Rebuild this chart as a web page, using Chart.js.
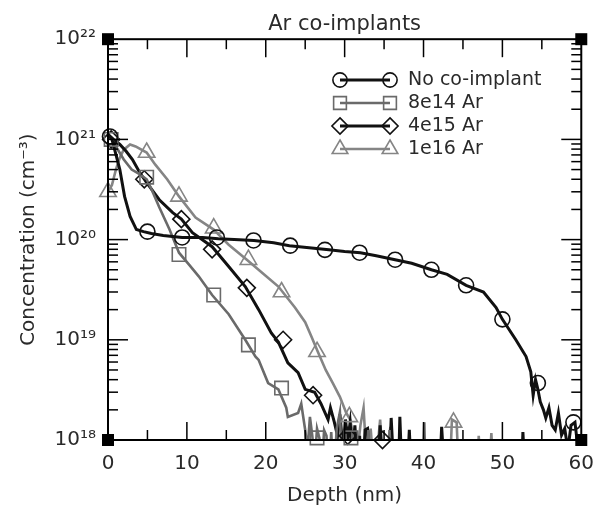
<!DOCTYPE html>
<html><head><meta charset="utf-8">
<script src="https://cdn.jsdelivr.net/npm/chart.js@4.4.0/dist/chart.umd.min.js"></script>
<style>html,body{margin:0;padding:0;background:#fff;}canvas{display:block;}</style>
</head><body>
<canvas id="c" width="606" height="513"></canvas>
<script>
// ---------- data (depth in nm, concentration in cm^-3) ----------
const seriesNames = ['No co-implant', '8e14 Ar', '4e15 Ar', '1e16 Ar'];

const depthNoCo = [0,0.5,1.0,1.5,2.1,2.8,3.6,4.5,5.5,7,9.4,12,14,16,18.5,21,23,25.5,28,30,32,34,36.4,38.5,41,43,45.4,47.6,49.2,50,51.7,53,53.6,53.9,54.2,54.5,54.8,55.2,55.5,55.9,56.3,56.7,57.1,57.5,57.9,58.3,58.7,59.2,59.6,60];
const concNoCo  = [1.12e21,1.0e21,7.1e20,5.0e20,2.7e20,1.7e20,1.26e20,1.2e20,1.15e20,1.1e20,1.05e20,1.05e20,1.02e20,1.0e20,9.8e19,9.3e19,8.7e19,8.3e19,7.9e19,7.6e19,7.4e19,6.9e19,6.3e19,5.8e19,5.0e19,4.5e19,3.5e19,3.0e19,2.1e19,1.6e19,1.0e19,6.8e18,4.8e18,2.8e18,4.0e18,3.2e18,2.4e18,2.0e18,1.66e18,2.1e18,1.4e18,1.26e18,1.86e18,1.12e18,1.3e18,8e17,1.4e18,1.5e18,8e17,1.0e18];

const depth8e14 = [0,0.5,1.0,2.0,3.0,4.0,4.9,5.5,6.5,7.8,9.0,10.3,11.5,13.2,15.3,17.4,18.7,19.1,20.3,21.6,22.6,22.8,24.1,24.5,25.0,25.3,25.6,25.9,26.2,26.5,26.8,27.1,27.4,27.7,28.0,28.3,28.6,29.0,29.4,29.7,30.1,30.5,31.0,31.4,32.6,33.0,33.4,35.4,35.7,36.0,39.8,40.1,40.3];
const conc8e14  = [1.05e21,1.0e21,8.5e20,6.3e20,5.0e20,4.5e20,4.0e20,3.2e20,2.1e20,1.26e20,7.4e19,5.6e19,4.3e19,2.8e19,1.8e19,1.0e19,6.8e18,6.3e18,3.7e18,3.2e18,2.1e18,1.7e18,1.86e18,2.3e18,1.26e18,8e17,1.7e18,1.1e18,6e17,1.3e18,1.05e18,5e17,1.25e18,1.1e18,4e17,1.2e18,4e17,1.3e18,1.9e18,4e17,1.15e18,3e17,1.2e18,3e17,3e17,1.26e18,3e17,3e17,1.26e18,3e17,3e17,1.5e18,3e17];

const depth4e15 = [0,0.7,1.5,2.3,3.1,4.0,4.9,6.5,8.2,9.3,10.7,13.2,15.3,17.4,19.1,20.7,21.6,22.8,24.1,25.0,26.2,27.0,27.9,28.2,28.7,29.1,29.4,29.8,30.1,30.4,30.7,31.0,31.3,31.6,31.9,32.2,32.6,32.9,33.2,34.2,34.5,34.9,35.6,35.9,36.3,36.8,37.0,37.3,37.9,38.2,38.5,42.0,42.3,42.7,52.4,52.6,52.9];
const conc4e15  = [1.12e21,1.0e21,8.9e20,7.6e20,6.3e20,4.7e20,3.7e20,2.5e20,1.86e20,1.6e20,1.17e20,8.5e19,5.4e19,3.4e19,2.0e19,1.17e19,9.5e18,5.9e18,4.7e18,3.2e18,3.0e18,2.3e18,1.6e18,2.1e18,1.5e18,1.1e18,1.8e18,8e17,1.6e18,1.0e18,1.5e18,7e17,1.4e18,6e17,1.1e18,4e17,1.26e18,1.3e18,4e17,4e17,1.4e18,4e17,4e17,1.66e18,4e17,4e17,1.7e18,4e17,4e17,1.26e18,4e17,4e17,1.35e18,4e17,4e17,1.2e18,4e17];

const depth1e16 = [0,0.5,1.0,1.5,2.0,2.8,3.5,4.9,6.0,7.5,9.0,11.1,13.4,15.3,17.6,19.5,21.6,23.7,25.0,25.8,26.6,27.6,28.5,29.4,30.2,30.7,31.0,31.5,32.0,32.4,32.8,33.3,33.8,34.5,35.0,35.8,36.2,43.3,43.6,44.2,44.5,46.8,47.0,47.3,48.3,48.6,48.9];
const conc1e16  = [3.0e20,3.5e20,5.0e20,6.6e20,7.9e20,8.9e20,8.5e20,7.4e20,5.6e20,4.0e20,2.7e20,1.66e20,1.26e20,8.9e19,6.3e19,4.7e19,3.4e19,2.1e19,1.5e19,1.07e19,7.6e18,5.0e18,3.7e18,2.7e18,1.86e18,1.6e18,1.2e18,6e17,1.4e18,2.1e18,6e17,1.3e18,4e17,1.6e18,4e17,1.35e18,4e17,4e17,1.6e18,1.5e18,4e17,4e17,1.1e18,4e17,4e17,1.17e18,4e17];

// marker positions (symbols placed along each profile)
const markDepthNoCo = [0.25,5.0,9.4,13.8,18.45,23.1,27.5,31.9,36.4,41.0,45.4,50.0,54.5,59.0];
const markConcNoCo  = [1.07e21,1.2e20,1.05e20,1.05e20,9.8e19,8.7e19,7.9e19,7.4e19,6.3e19,5.0e19,3.5e19,1.6e19,3.7e18,1.5e18];
const markDepth8e14 = [0.4,4.9,9.0,13.4,17.8,22.0,26.5,30.8];
const markConc8e14  = [1.0e21,4.2e20,7.1e19,2.8e19,8.9e18,3.3e18,1.05e18,1.05e18];
const markDepth4e15 = [0.4,4.6,9.3,13.2,17.6,22.2,26.0,30.4,34.8];
const markConc4e15  = [1.0e21,4.0e20,1.6e20,8e19,3.3e19,1.0e19,2.8e18,1.1e18,1.0e18];
const markDepth1e16 = [0.0,4.9,9.0,13.4,17.8,22.0,26.5,30.6,43.8];
const markConc1e16  = [3.0e20,7.4e20,2.7e20,1.3e20,6.3e19,3.0e19,7.6e18,1.7e18,1.5e18];

const xTickValues = [0,10,20,30,40,50,60];
const yTickExponents = [18,19,20,21,22];
const yTickLabels = ['10\u00B9\u2078','10\u00B9\u2079','10\u00B2\u2070','10\u00B2\u00B9','10\u00B2\u00B2'];

// ---------- styling ----------
const FONT = 'DejaVu Sans';
const TXT = '#2a2a2a';
const colors = ['#111111', '#6a6a6a', '#111111', '#858585'];
const lineWidths = [3, 2.6, 3, 2.6];
const pStyles = ['circle', 'rect', 'rectRot', 'triangle'];
const pRadius = [7.5, 9.5, 8.5, 9.5];

const zip = (xs, ys) => xs.map((x, i) => ({x, y: ys[i]}));
const lineData = [zip(depthNoCo, concNoCo), zip(depth8e14, conc8e14), zip(depth4e15, conc4e15), zip(depth1e16, conc1e16)];
const markData = [zip(markDepthNoCo, markConcNoCo), zip(markDepth8e14, markConc8e14), zip(markDepth4e15, markConc4e15), zip(markDepth1e16, markConc1e16)];

const datasets = [];
lineData.forEach((d, i) => datasets.push({
  label: seriesNames[i], data: d, showLine: true, borderColor: colors[i], borderWidth: lineWidths[i],
  pointRadius: 0, tension: 0, order: 10 + i
}));
markData.forEach((d, i) => datasets.push({
  label: seriesNames[i] + ' markers', data: d, showLine: false, borderColor: colors[i], backgroundColor: 'rgba(0,0,0,0)',
  pointStyle: pStyles[i], pointRadius: pRadius[i], pointBorderWidth: 1.6, clip: false, order: i
}));

function drawSym(ctx, style, x, y, r) {
  ctx.beginPath();
  if (style === 'circle') ctx.arc(x, y, r, 0, Math.PI * 2);
  else if (style === 'rect') { const s = r * Math.SQRT1_2; ctx.rect(x - s, y - s, 2 * s, 2 * s); }
  else if (style === 'rectRot') { ctx.moveTo(x, y - r); ctx.lineTo(x + r, y); ctx.lineTo(x, y + r); ctx.lineTo(x - r, y); ctx.closePath(); }
  else if (style === 'triangle') {
    for (let k = 0; k < 3; k++) { const a = k * 2 * Math.PI / 3; const px = x + Math.sin(a) * r, py = y - Math.cos(a) * r; k ? ctx.lineTo(px, py) : ctx.moveTo(px, py); }
    ctx.closePath();
  }
  ctx.stroke();
}

const framePlugin = {
  id: 'frame',
  afterDraw(chart) {
    const {ctx, chartArea: a, scales: {x: xs, y: ys}} = chart;
    ctx.save();
    ctx.strokeStyle = '#000'; ctx.lineWidth = 2;
    ctx.strokeRect(a.left, a.top, a.right - a.left, a.bottom - a.top);
    ctx.lineWidth = 1.5;
    const seg = (x1, y1, x2, y2) => { ctx.beginPath(); ctx.moveTo(x1, y1); ctx.lineTo(x2, y2); ctx.stroke(); };
    for (let v = 5; v < 60; v += 5) {
      const px = xs.getPixelForValue(v); const L = v % 10 === 0 ? 18 : 10;
      seg(px, a.bottom, px, a.bottom - L); seg(px, a.top, px, a.top + L);
    }
    for (let e = 18; e < 22; e++) for (let m = 1; m <= 9; m++) {
      if (m === 1 && e === 18) continue;
      const py = ys.getPixelForValue(m * Math.pow(10, e)); const L = m === 1 ? 20 : 10;
      seg(a.left, py, a.left + L, py); seg(a.right, py, a.right - L, py);
    }
    ctx.fillStyle = '#000';
    [[a.left, a.top], [a.right, a.top], [a.left, a.bottom], [a.right, a.bottom]].forEach(([cx, cy]) => ctx.fillRect(cx - 6, cy - 6, 12, 12));
    // legend
    const rows = [80, 103, 126, 149];
    ctx.font = '19px "' + FONT + '"'; ctx.textBaseline = 'middle'; ctx.textAlign = 'left';
    seriesNames.forEach((n, i) => {
      const y = rows[i];
      ctx.strokeStyle = colors[i]; ctx.lineWidth = lineWidths[i];
      seg(340, y, 390, y);
      ctx.lineWidth = 1.6;
      drawSym(ctx, pStyles[i], 340, y, pRadius[i] * 0.95);
      drawSym(ctx, pStyles[i], 390, y, pRadius[i] * 0.95);
      ctx.fillStyle = TXT; ctx.fillText(n, 408, y);
    });
    ctx.restore();
  }
};

new Chart(document.getElementById('c'), {
  type: 'scatter',
  data: {datasets},
  options: {
    responsive: false, animation: false, devicePixelRatio: 1,
    layout: {padding: {top: 0, right: 20, left: 0, bottom: 0}},
    plugins: {
      legend: {display: false}, tooltip: {enabled: false},
      title: {display: true, text: 'Ar co-implants', fullSize: false, color: TXT,
        font: {family: FONT, size: 21, weight: 'normal'}, padding: {top: 12, bottom: 2}}
    },
    scales: {
      x: {
        type: 'linear', min: 0, max: 60,
        grid: {display: false, drawTicks: false}, border: {display: false},
        afterBuildTicks(s) { s.ticks = xTickValues.map(v => ({value: v})); },
        ticks: {color: TXT, font: {family: FONT, size: 20}, padding: 12, maxRotation: 0, autoSkip: false},
        title: {display: true, text: 'Depth (nm)', color: TXT, font: {family: FONT, size: 20}, padding: {top: 0, bottom: 5}},
        afterFit(s) { s.height = 73; }
      },
      y: {
        type: 'logarithmic', min: 1e18, max: 1e22,
        grid: {display: false, drawTicks: false}, border: {display: false},
        afterBuildTicks(s) { s.ticks = yTickExponents.map(e => ({value: Math.pow(10, e)})); },
        ticks: {color: TXT, font: {family: FONT, size: 20}, padding: 12, autoSkip: false,
          callback(v) { const i = yTickExponents.indexOf(Math.round(Math.log10(v))); return i >= 0 ? yTickLabels[i] : ''; }},
        title: {display: true, text: 'Concentration (cm\u207B\u00B3)', color: TXT, font: {family: FONT, size: 20}, padding: {top: 17, bottom: 0}},
        afterFit(s) { s.width = 108; }
      }
    }
  },
  plugins: [framePlugin]
});
</script>
</body></html>
